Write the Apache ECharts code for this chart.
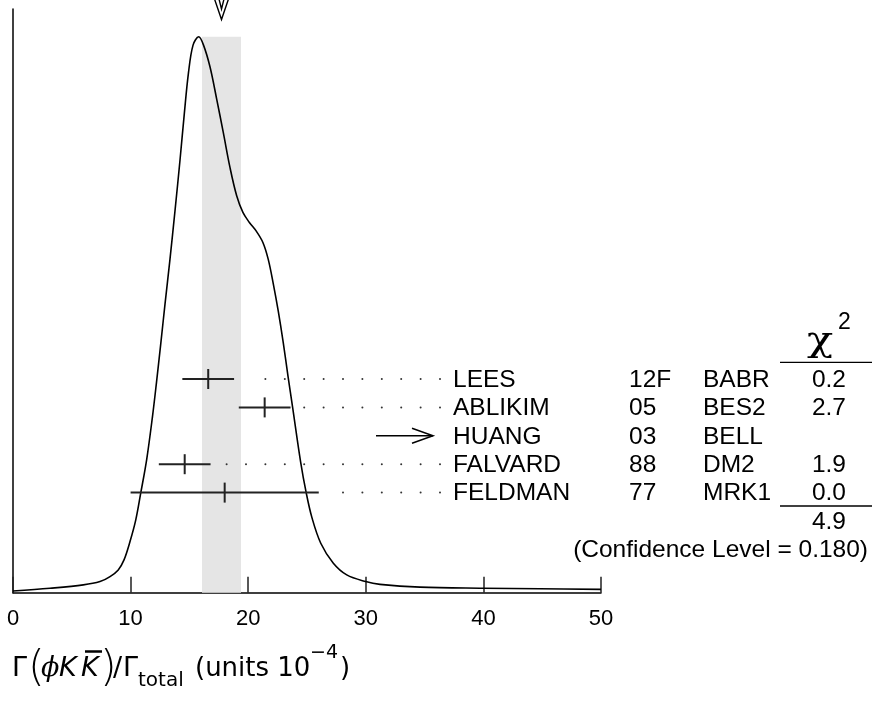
<!DOCTYPE html>
<html>
<head>
<meta charset="utf-8">
<script src="https://cdn.jsdelivr.net/npm/echarts@6/dist/echarts.min.js"></script>
<style>
  html, body { margin: 0; padding: 0; background: #fff; }
  #chart { width: 872px; height: 702px; }
</style>
</head>
<body>
<div id="chart"></div>
<script>
// Ideogram curve: x in units of 1e-4, y relative to the peak height
const curveX = [0.00, 3.15, 5.98, 7.40, 8.25, 8.95, 9.44, 9.95, 10.43, 10.86, 11.37, 11.85, 12.20, 12.55, 12.93,
  13.35, 13.78, 14.20, 14.56, 14.92, 15.31, 15.79, 16.20, 16.75, 17.32, 17.88, 18.45, 19.02, 19.55, 20.10,
  20.70, 21.25, 21.70, 22.13, 22.56, 22.98, 23.38, 23.78, 24.46, 24.93, 25.42, 26.17, 27.24, 28.38, 29.99,
  31.21, 34.61, 39.97, 44.81, 50.00];
const curveY = [0.003, 0.008, 0.014, 0.020, 0.029, 0.041, 0.059, 0.092, 0.130, 0.179, 0.240, 0.315, 0.378, 0.445, 0.520,
  0.600, 0.688, 0.778, 0.860, 0.935, 0.985, 1.000, 0.985, 0.946, 0.888, 0.828, 0.765, 0.714, 0.684, 0.666,
  0.650, 0.630, 0.600, 0.556, 0.506, 0.450, 0.390, 0.333, 0.235, 0.180, 0.135, 0.089, 0.053, 0.032, 0.020,
  0.015, 0.010, 0.008, 0.007, 0.006];

// Measurements, top to bottom
const authors     = ['LEES', 'ABLIKIM', 'HUANG', 'FALVARD', 'FELDMAN'];
const years       = ['12F', '05', '03', '88', '77'];
const experiments = ['BABR', 'BES2', 'BELL', 'DM2', 'MRK1'];
const values      = [16.6, 21.4, null, 14.6, 18.0];
const errors      = [2.2, 2.2, null, 2.2, 8.0];
const chi2        = ['0.2', '2.7', '', '1.9', '0.0'];
const chi2Total   = '4.9';
const confidence  = '0.180';

// Weighted average and its error
const fitMean  = 17.73;
const fitError = 1.66;

// Axis range
const xMin = 0, xMax = 50, xStep = 10;

const TEXT_FONT = '"Liberation Sans", Arial, Helvetica, sans-serif';
const TITLE_FONT = '"DejaVu Sans", sans-serif';
const INK = '#000';
const BAR_INK = '#222';

const chart = echarts.init(document.getElementById('chart'), null, { renderer: 'canvas' });

const curveData = curveX.map((x, i) => [x, curveY[i]]);
const peak = Math.max.apply(null, curveY);

// Column anchors for the table on the right
const NAME_X = 453, YEAR_X = 629, EXP_X = 703, CHI_RIGHT = 846;
const DOT_STEP = 19.4;
const ROW_FONT = '24.5px ' + TEXT_FONT;

function renderBand(params, api) {
  const p0 = api.coord([fitMean - fitError, peak]);
  const p1 = api.coord([fitMean + fitError, 0]);
  const cx = api.coord([fitMean, 0])[0];
  return {
    type: 'group',
    children: [
      {
        type: 'rect',
        shape: { x: p0[0], y: p0[1], width: p1[0] - p0[0], height: p1[1] - p0[1] },
        style: { fill: '#e5e5e5' }
      },
      // arrow marking the average at the top
      {
        type: 'polyline',
        shape: { points: [[cx - 7, -1], [cx, 19.5], [cx + 7, -1]] },
        style: { stroke: INK, lineWidth: 1.4, fill: null }
      },
      {
        type: 'polyline',
        shape: { points: [[cx - 2.5, -1], [cx, 9], [cx + 2.5, -1]] },
        style: { stroke: INK, lineWidth: 1.4, fill: null }
      }
    ]
  };
}

function renderBars(params, api) {
  const v = api.value(0), row = api.value(1), e = api.value(2);
  const lo = api.coord([v - e, row]);
  const hi = api.coord([v + e, row]);
  const c = api.coord([v, row]);
  return {
    type: 'group',
    children: [
      { type: 'line', shape: { x1: lo[0], y1: lo[1], x2: hi[0], y2: hi[1] },
        style: { stroke: BAR_INK, lineWidth: 2 } },
      { type: 'line', shape: { x1: c[0], y1: c[1] - 10, x2: c[0], y2: c[1] + 10 },
        style: { stroke: BAR_INK, lineWidth: 2 } }
    ]
  };
}

function renderRows(params, api) {
  const i = params.dataIndex;
  const y = api.coord([0, i])[1];
  const children = [];
  const txt = (text, x, align) => ({
    type: 'text',
    style: { text: text, x: x, y: y + 1, align: align, verticalAlign: 'middle',
             font: ROW_FONT, fill: INK }
  });
  children.push(txt(authors[i], NAME_X, 'left'));
  children.push(txt(years[i], YEAR_X, 'left'));
  children.push(txt(experiments[i], EXP_X, 'left'));
  if (chi2[i]) children.push(txt(chi2[i], CHI_RIGHT, 'right'));

  const lastDot = NAME_X - 13;
  if (values[i] == null) {
    // entry without a bar: plain arrow toward the name
    const x2 = NAME_X - 20, x1 = x2 - 57;
    children.push({ type: 'line', shape: { x1: x1, y1: y, x2: x2, y2: y },
      style: { stroke: INK, lineWidth: 1.5 } });
    children.push({ type: 'polyline', shape: { points: [[x2 - 21, y - 7.5], [x2, y], [x2 - 21, y + 7.5]] },
      style: { stroke: INK, lineWidth: 1.5, fill: null } });
  } else {
    const barEnd = api.coord([values[i] + errors[i], i])[0];
    for (let x = lastDot; x > barEnd + 12.5; x -= DOT_STEP) {
      children.push({ type: 'circle', shape: { cx: x, cy: y, r: 1.0 }, style: { fill: '#333' } });
    }
  }
  return { type: 'group', children: children };
}

const barData = [];
values.forEach((v, i) => { if (v != null) barData.push([v, i, errors[i]]); });

function t(text, x, y, font, extra) {
  return Object.assign({ type: 'text', x: x, y: y,
    style: { text: text, font: font, fill: INK, verticalAlign: 'middle' } }, extra || {});
}

const option = {
  backgroundColor: '#fff',
  animation: false,
  grid: [
    { left: 13, top: 9, width: 588, height: 583.7 },
    { left: 13, top: 364.8, width: 588, height: 142 }
  ],
  xAxis: [
    {
      gridIndex: 0, type: 'value', min: xMin, max: xMax, interval: xStep,
      axisLine: { show: true, onZero: false, lineStyle: { color: INK, width: 1.5 } },
      axisTick: { show: true, inside: true, length: 16, lineStyle: { color: '#222', width: 1.5 } },
      axisLabel: { show: true, margin: 15, color: INK, fontSize: 22, fontFamily: TEXT_FONT,
                   showMinLabel: true, showMaxLabel: true },
      splitLine: { show: false }
    },
    { gridIndex: 1, type: 'value', min: xMin, max: xMax, show: false }
  ],
  yAxis: [
    {
      gridIndex: 0, type: 'value', min: 0, max: 1.05,
      axisLine: { show: true, lineStyle: { color: INK, width: 1.5 } },
      axisTick: { show: false }, axisLabel: { show: false }, splitLine: { show: false }
    },
    { gridIndex: 1, type: 'category', data: authors, inverse: true, show: false }
  ],
  series: [
    {
      type: 'custom', xAxisIndex: 0, yAxisIndex: 0, z: 1,
      renderItem: renderBand, data: [[fitMean, 0]], silent: true, clip: false
    },
    {
      type: 'line', xAxisIndex: 0, yAxisIndex: 0, z: 3,
      data: curveData, showSymbol: false, smooth: 0.35,
      lineStyle: { color: INK, width: 1.6 }, silent: true
    },
    {
      type: 'custom', xAxisIndex: 1, yAxisIndex: 1, z: 4,
      renderItem: renderBars, data: barData, silent: true, clip: false
    },
    {
      type: 'custom', xAxisIndex: 1, yAxisIndex: 1, z: 4,
      renderItem: renderRows, data: authors.map((a, i) => [0, i]), silent: true, clip: false
    }
  ],
  graphic: [
    // chi-square column header
    t('χ', 807, 342, '36px "DejaVu Serif", serif', { scaleX: 1.2, originX: 0, originY: 0 }),
    t('2', 838, 323, '23px ' + TEXT_FONT),
    { type: 'line', shape: { x1: 780, y1: 362.3, x2: 872, y2: 362.3 }, style: { stroke: INK, lineWidth: 1.3 } },
    { type: 'line', shape: { x1: 780, y1: 506, x2: 872, y2: 506 }, style: { stroke: INK, lineWidth: 1.3 } },
    { type: 'text', x: CHI_RIGHT, y: 522, style: { text: chi2Total, align: 'right', verticalAlign: 'middle',
      font: ROW_FONT, fill: INK } },
    { type: 'text', x: 868, y: 550, style: { text: '(Confidence Level = ' + confidence + ')', align: 'right',
      verticalAlign: 'middle', font: ROW_FONT, fill: INK } },
    // axis title: Γ(ϕ K K̄)/Γ_total (units 10^-4)
    t('Γ', 12, 669, '27px ' + TITLE_FONT),
    t('(', 28, 670, '200 43px ' + TITLE_FONT),
    t('ϕ', 41, 669, 'italic 27px "DejaVu Serif", serif'),
    t('K', 59, 669, 'italic 27px ' + TITLE_FONT),
    t('K', 81, 669, 'italic 27px ' + TITLE_FONT),
    { type: 'line', shape: { x1: 85, y1: 651.5, x2: 102, y2: 651.5 }, style: { stroke: INK, lineWidth: 2.5 } },
    t(')', 100, 670, '200 43px ' + TITLE_FONT),
    t('/', 113, 669, '27px ' + TITLE_FONT),
    t('Γ', 123, 669, '27px ' + TITLE_FONT),
    t('total', 138, 681, '20px ' + TITLE_FONT),
    t('(units 10', 195, 669, '26px ' + TITLE_FONT),
    t('−4', 310, 653, '19px ' + TITLE_FONT),
    t(')', 340, 669, '26px ' + TITLE_FONT)
  ]
};

chart.setOption(option);
</script>
</body>
</html>
